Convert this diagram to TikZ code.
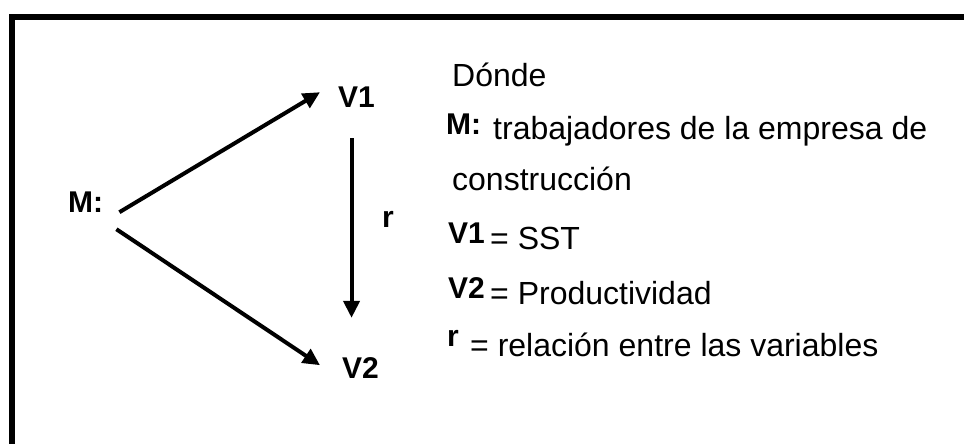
\documentclass[tikz,border=0pt]{standalone}
\usepackage{fontspec}
\setmainfont{Liberation Sans}
\usetikzlibrary{arrows.meta,positioning}

\begin{document}
\begin{tikzpicture}[x=1pt,y=-1pt,>={Triangle[length=17pt,width=16pt]},var/.style = {font=\fontsize{30}{35}\selectfont\bfseries, inner sep = 0pt, anchor = base west},txt/.style = {font=\fontsize{32}{38}\selectfont, inner sep = 0pt, anchor = base west},flecha/.style = {line width = 4pt, ->},]
\useasboundingbox (0,0) rectangle (964,444);
\draw[line width=6pt] (12,444)--(12,17)--(964,17);
\node (M) at (68,212)[var] {M:};
\node (V1) at (338,107)[var] {V1};
\node (V2) at (342,378)[var] {V2};
\node (r) at (382,227)[var] {r};
\draw[flecha] ([xshift=16pt]M.south east)--([xshift=-18pt,yshift=15pt]V1.south west);
\draw[flecha] ([xshift=13pt,yshift=-17pt]M.south east)--([xshift=-22pt,yshift=13pt]V2.south west);
\draw[flecha] ([xshift=-5pt,yshift=-31pt]V1.south)--([xshift=-9pt,yshift=39pt]V2.north);
\node (donde) at (452,87)[txt] {Dónde};
\node (defM) at (446,134)[var] {M:};
\node (txtM) at (493,139)[txt] {trabajadores de la empresa de};
\node (cons) at (452,190)[txt] {construcción};
\node (defV1) at (448,243)[var] {V1};
\node (txtV1) at (490,249)[txt] {= SST};
\node (defV2) at (448,298)[var] {V2};
\node (txtV2) at (490,304)[txt] {= Productividad};
\node (defr) at (447,346)[var] {r};
\node (txtr) at (470,356)[txt] {= relación entre las variables};
\end{tikzpicture}
\end{document}
